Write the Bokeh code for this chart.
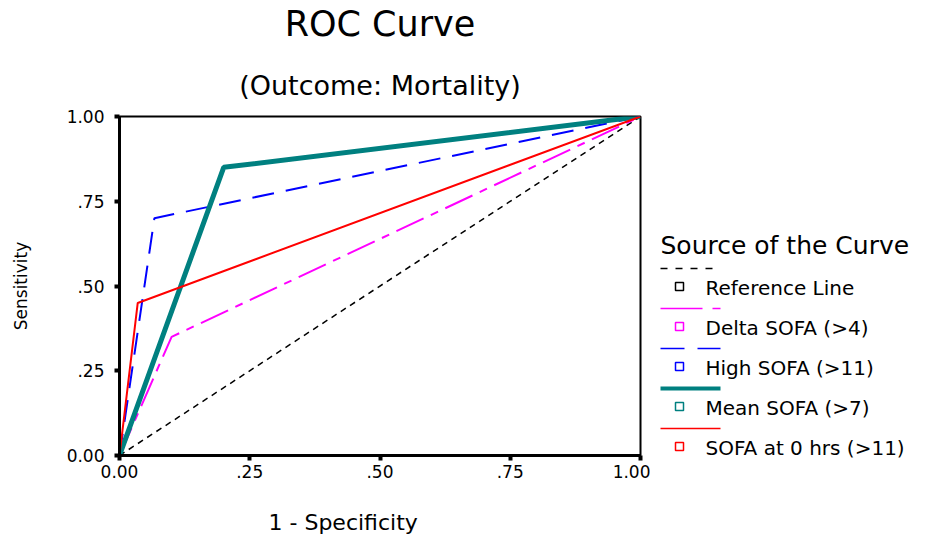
from bokeh.plotting import figure
from bokeh.models import Range1d, FixedTicker
from bokeh.layouts import row, column
from bokeh.embed import file_html
from bokeh.resources import INLINE
from bokeh.core.properties import value

FONT = "DejaVu Sans"

# Axis ticks (SPSS-style labels)
tick_values = [0, 0.25, 0.5, 0.75, 1]
tick_labels = ["0.00", ".25", ".50", ".75", "1.00"]

# ROC curves: 1 - specificity (x) vs sensitivity (y)
series_names = ["Reference Line", "Delta SOFA (>4)", "High SOFA (>11)",
                "Mean SOFA (>7)", "SOFA at 0 hrs (>11)"]
ref_fpr = [0.0, 1.0]
ref_tpr = [0.0, 1.0]
delta_fpr = [0.0, 0.10, 1.0]
delta_tpr = [0.0, 0.35, 1.0]
high_fpr = [0.0, 0.067, 1.0]
high_tpr = [0.0, 0.70, 1.0]
mean_fpr = [0.0, 0.20, 1.0]
mean_tpr = [0.0, 0.85, 1.0]
sofa0_fpr = [0.0, 0.035, 1.0]
sofa0_tpr = [0.0, 0.45, 1.0]

series_x = [ref_fpr, delta_fpr, high_fpr, mean_fpr, sofa0_fpr]
series_y = [ref_tpr, delta_tpr, high_tpr, mean_tpr, sofa0_tpr]

colors = ["black", "#ff00ff", "#0000ff", "#008080", "#ff0000"]
widths = [1.5, 2, 2, 5, 2]
dashes = ["6 5", "30 8 8 8", "22 12", "solid", "solid"]
legend_dashes = ["7 8", "42 10 8 10", "24 13", "solid", "solid"]
legend_widths = [1.5, 1.5, 1.5, 4, 1.5]

W, H = 948, 535
HEADER_H = 104
FOOTER_H = 50
BODY_H = H - HEADER_H - FOOTER_H
FRAME_TOP = 116          # page y of the plot frame's top edge
FRAME_H = 339


def canvas_panel(width, height, top):
    """A blank figure whose data coordinates equal page pixels (y downward)."""
    left = W - width
    f = figure(frame_width=width, frame_height=height,
               x_range=Range1d(left, W), y_range=Range1d(top + height, top),
               min_border=0, x_axis_location=None, y_axis_location=None,
               output_backend="svg", toolbar_location=None, title=None)
    f.grid.grid_line_color = None
    f.outline_line_color = None
    f.frame_align = False
    return f


# ---- header with titles ----
header = canvas_panel(W, HEADER_H, 0)
header.text(x=[379.5], y=[23], text=["ROC Curve"], text_font=value(FONT),
            text_font_size="35px", text_align="center",
            text_baseline="middle", text_color="black")
header.text(x=[379.5], y=[85], text=["(Outcome: Mortality)"],
            text_font=value(FONT), text_font_size="27px", text_align="center",
            text_baseline="middle", text_color="black")

# ---- main ROC plot ----
top_border = FRAME_TOP - HEADER_H
p = figure(frame_width=521, frame_height=FRAME_H,
           x_range=Range1d(0, 1), y_range=Range1d(0, 1),
           min_border_left=119, min_border_right=10,
           min_border_top=top_border,
           min_border_bottom=BODY_H - top_border - FRAME_H,
           output_backend="svg", toolbar_location=None, title=None)
p.frame_align = False

for xs, ys, c, w, d in zip(series_x, series_y, colors, widths, dashes):
    p.line(xs, ys, line_color=c, line_width=w, line_dash=d)

p.grid.grid_line_color = None
p.outline_line_color = "black"
p.outline_line_width = 2

overrides = dict(zip(tick_values, tick_labels))
for ax in (p.xaxis[0], p.yaxis[0]):
    ax.ticker = FixedTicker(ticks=tick_values)
    ax.major_label_overrides = overrides
    ax.axis_line_width = 3
    ax.axis_line_color = "black"
    ax.major_tick_line_width = 4
    ax.major_tick_out = 5
    ax.major_tick_in = 0
    ax.minor_tick_line_color = None
    ax.major_label_text_font = FONT
    ax.major_label_text_font_size = "17px"
    ax.major_label_text_color = "black"

p.yaxis.major_label_standoff = 10
p.xaxis.major_label_standoff = 4

p.yaxis.axis_label = "Sensitivity"
p.yaxis.axis_label_text_font = FONT
p.yaxis.axis_label_text_font_size = "17px"
p.yaxis.axis_label_text_font_style = "normal"
p.yaxis.axis_label_text_color = "black"
p.yaxis.axis_label_standoff = 33

# ---- legend panel ----
lg = canvas_panel(W - 650, BODY_H, HEADER_H)

lg.text(x=[660], y=[245], text=["Source of the Curve"],
        text_font=value(FONT), text_font_size="25px",
        text_baseline="middle", text_color="black")

x0, x1 = 660, 720
y_first = 268
step = 40
for i, name in enumerate(series_names):
    ys = y_first + i * step
    lg.line([x0, x1], [ys, ys], line_color=colors[i],
            line_width=legend_widths[i], line_dash=legend_dashes[i])
    ym = ys + 18
    lg.scatter([679], [ym], marker="square", size=8,
               fill_color="white", line_color=colors[i], line_width=1.5)
    lg.text(x=[705], y=[ym + 1], text=[name],
            text_font=value(FONT), text_font_size="20px",
            text_baseline="middle", text_color="black")

# ---- footer with x-axis title ----
footer = canvas_panel(W, FOOTER_H, HEADER_H + BODY_H)
footer.text(x=[268], y=[522], text=["1 - Specificity"],
            text_font=value(FONT), text_font_size="22px",
            text_baseline="middle", text_color="black")

layout = column(header, row(p, lg), footer)
open("out.html", "w").write(file_html(layout, INLINE))
